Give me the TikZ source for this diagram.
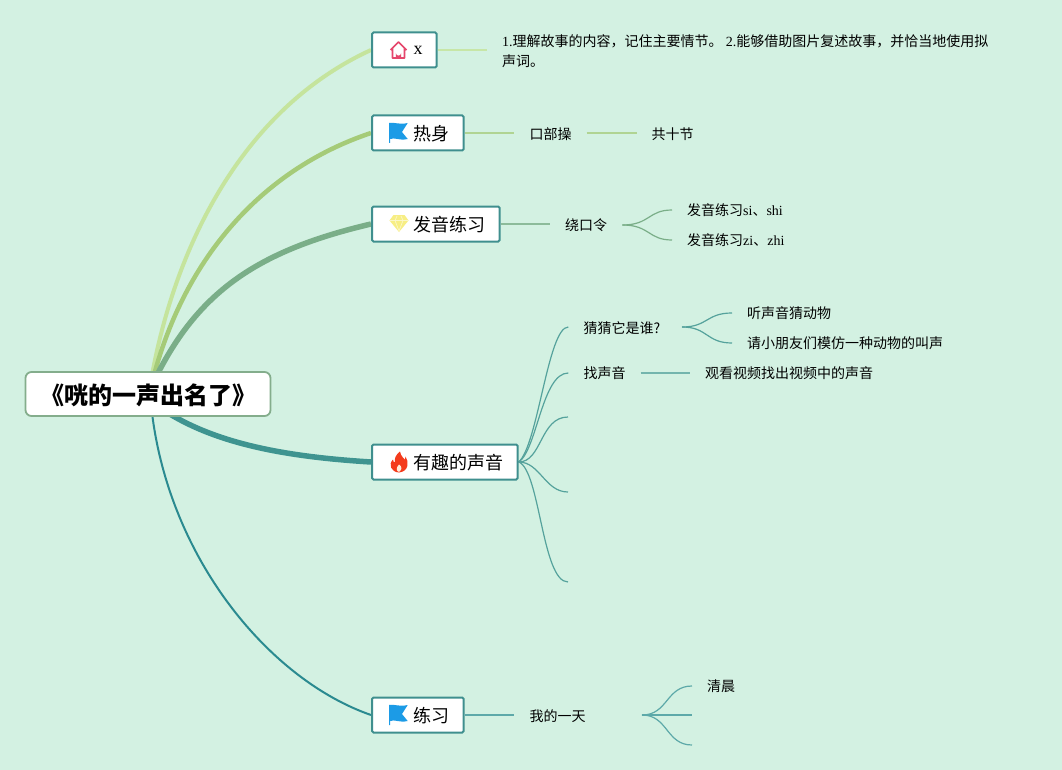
\documentclass[tikz,border=0pt]{standalone}
\usepackage{fontspec}
\setmainfont{Noto Sans CJK SC}
\newfontfamily\lat{Liberation Serif}
\definecolor{bgc}{HTML}{D3F1E2}
\definecolor{ca}{HTML}{C5E49D}
\definecolor{cb}{HTML}{A5CB78}
\definecolor{cc}{HTML}{7AAE88}
\definecolor{cd}{HTML}{3F9490}
\definecolor{ce}{HTML}{2A8A90}
\definecolor{boxb}{HTML}{3F8F8E}
\definecolor{rootb}{HTML}{84AD8C}
\definecolor{flagc}{HTML}{1C9BE6}
\definecolor{housec}{HTML}{E5466C}
\definecolor{gemc}{HTML}{F7EE84}
\definecolor{flamec}{HTML}{F43B1C}
\pgfdeclarelayer{under}
\pgfsetlayers{under,main}
\tikzset{
  rootbox/.style={draw=rootb,line width=1.8pt,fill=white,rounded corners=6pt,minimum width=245pt,minimum height=44pt,inner sep=0pt,text height=21.2pt,text depth=0pt,font=\fontsize{24}{28}\selectfont\bfseries},
  topic/.style={draw=boxb,line width=2pt,fill=white,rounded corners=1.5pt,minimum height=35pt,inner xsep=0pt,inner ysep=0pt,text height=15.8pt,text depth=0pt,anchor=west,font=\fontsize{18}{22}\selectfont},
  sub/.style={inner xsep=15pt,inner ysep=0pt,anchor=west,font=\fontsize{14}{20}\selectfont,text=black,align=left},
  thin1/.style={line width=1.2pt}
}
\newcommand{\tp}[1]{\hspace*{41.7pt}#1\hspace*{14pt}}
\begin{document}
\begin{tikzpicture}[x=1pt,y=-1pt]
\useasboundingbox (0,0) rectangle (1062,770);
% nodes
\node[rootbox] (root) at (148,394) {《咣的一声出名了》};
\node[topic] (t1) at (371,50) {\tp{\raisebox{3.8pt}{\lat x}}};
\node[topic] (t2) at (371,133) {\tp{热身}};
\node[topic] (t3) at (371,224) {\tp{发音练习}};
\node[topic] (t4) at (371,462) {\tp{有趣的声音}};
\node[topic] (t5) at (371,715) {\tp{练习}};
\node[sub] (a1) at (487,51) {{\lat 1.}理解故事的内容，记住主要情节。 {\lat 2.}能够借助图片复述故事，并恰当地使用拟\\声词。};
\node[sub] (b1) at (514.3,133.7) {口部操};
\node[sub] (b2) at (636.5,133.7) {共十节};
\node[sub] (c1) at (550,225) {绕口令};
\node[sub] (c2) at (672,210) {发音练习{\lat si}、{\lat shi}};
\node[sub] (c3) at (672,240) {发音练习{\lat zi}、{\lat zhi}};
\node[sub] (d1) at (568.3,328) {猜猜它是谁?};
\node[sub] (d2) at (568.3,373) {找声音};
\node[sub] (d3) at (732,313) {听声音猜动物};
\node[sub] (d4) at (732,343) {请小朋友们模仿一种动物的叫声};
\node[sub] (d5) at (690,373) {观看视频找出视频中的声音};
\node[sub] (e1) at (514.3,716) {我的一天};
\node[sub] (e2) at (692,686) {清晨};
\coordinate (d6) at (568,417);
\coordinate (d7) at (568,492);
\coordinate (d8) at (568,582);
\coordinate (e3) at (692,715);
\coordinate (e4) at (692,745);
\coordinate (d1o) at (682,327);
\coordinate (e1o) at (642,715);
\begin{pgfonlayer}{under}
\fill[bgc] (0,0) rectangle (1062,770);
% main branches
\draw[ca,line width=4pt] ([xshift=4pt,yshift=-4pt]root.north) .. controls (175,250) and (240,110) .. (t1.west);
\draw[cb,line width=4.5pt] ([xshift=6pt,yshift=-4pt]root.north) .. controls (185,260) and (260,170) .. (t2.west);
\draw[cc,line width=5.5pt] ([xshift=9pt,yshift=-4pt]root.north) .. controls (200,290) and (260,250) .. (t3.west);
\draw[cd,line width=5.5pt] ([xshift=20pt,yshift=4pt]root.south) .. controls (220,445) and (290,457) .. (t4.west);
\draw[ce,line width=2pt] ([xshift=4pt,yshift=4pt]root.south) .. controls (170,560) and (270,680) .. (t5.west);
% thin branches
\draw[ca!85!bgc,thin1] (t1.east) -- (a1.west |- t1.east);
\draw[cb!75!bgc,thin1] (t2.east) -- (b1.west |- t2.east);
\draw[cb!75!bgc,thin1] (b1.east |- t2.east) -- (b2.west |- t2.east);
\draw[cc!80!bgc,thin1] (t3.east) -- (c1.west |- t3.east);
\draw[cc,thin1] (c1.east) .. controls (650,225) and (648,210) .. (c2.west);
\draw[cc,thin1] (c1.east) .. controls (650,225) and (648,240) .. (c3.west);
\draw[cd!85!bgc,thin1] (t4.east) .. controls (538,445) and (548,327) .. (d1.west |- d1o);
\draw[cd!85!bgc,thin1] (t4.east) .. controls (537,450) and (542,373) .. (d2.west);
\draw[cd!85!bgc,thin1] (t4.east) .. controls (542,462) and (540,417) .. (d6);
\draw[cd!85!bgc,thin1] (t4.east) .. controls (540,462) and (545,492) .. (d7);
\draw[cd!85!bgc,thin1] (t4.east) .. controls (540,470) and (542,582) .. (d8);
\draw[cd!85!bgc,thin1] (d1o) .. controls (708,327) and (706,313) .. (d3.west);
\draw[cd!85!bgc,thin1] (d1o) .. controls (708,327) and (706,343) .. (d4.west);
\draw[cd!65!bgc,thin1] (d2.east) -- (d5.west);
\draw[ce!70!bgc,thin1] (t5.east) -- (e1.west |- t5.east);
\draw[ce!70!bgc,thin1] (e1o) .. controls (668,715) and (666,686) .. (e2.west);
\draw[ce!70!bgc,thin1] (e1o) -- (e3);
\draw[ce!70!bgc,thin1] (e1o) .. controls (668,715) and (666,745) .. (e4);
\end{pgfonlayer}
% icons
\begin{scope}[shift={(390,41)}]
  \draw[housec,line width=1.6pt,line join=round] (0.5,9) -- (8.5,1) -- (16.5,9) (2.5,7.5) -- (2.5,17) -- (14.5,17) -- (14.5,7.5);
  \fill[housec] (5.8,17) -- (5.8,12) arc[start angle=180,end angle=360,x radius=2.7,y radius=-2.7] -- (11.2,17) -- cycle;
\end{scope}
\foreach \fx/\fy in {389/122,389/704}{
  \begin{scope}[shift={(\fx,\fy)}]
    \fill[flagc] (0,1) .. controls (6,0) and (10,3) .. (18.7,1) -- (13,10) -- (18.7,17) .. controls (10,19) and (6,15) .. (1.2,17) -- (1.2,21) -- (0,21) -- cycle;
  \end{scope}
}
\begin{scope}[shift={(389.5,215)}]
  \fill[gemc] (4,0) -- (15,0) -- (19,5.5) -- (9.5,17) -- (0,5.5) -- cycle;
  \draw[white!55!gemc,line width=0.7pt] (0,5.5) -- (19,5.5) (5.5,5.5) -- (9.5,16) -- (13.5,5.5) (5.5,5.5) -- (7.5,1) (13.5,5.5) -- (11.5,1);
\end{scope}
\begin{scope}[shift={(390,451.5)}]
  \fill[flamec] (10,0) .. controls (11,5) and (14,7) .. (15,8) .. controls (16,7) and (16,6) .. (15.5,5) .. controls (19,10) and (19,20) .. (9,21) .. controls (1,20.5) and (-2,13) .. (3,8) .. controls (3,10) and (4,11) .. (5,11) .. controls (4,7) and (6,3) .. (10,0) -- cycle;
  \fill[white!85!orange] (9,13) .. controls (12,15) and (12.5,18) .. (9,20.5) .. controls (6,19.5) and (6,16) .. (9,13) -- cycle;
\end{scope}
\end{tikzpicture}
\end{document}
